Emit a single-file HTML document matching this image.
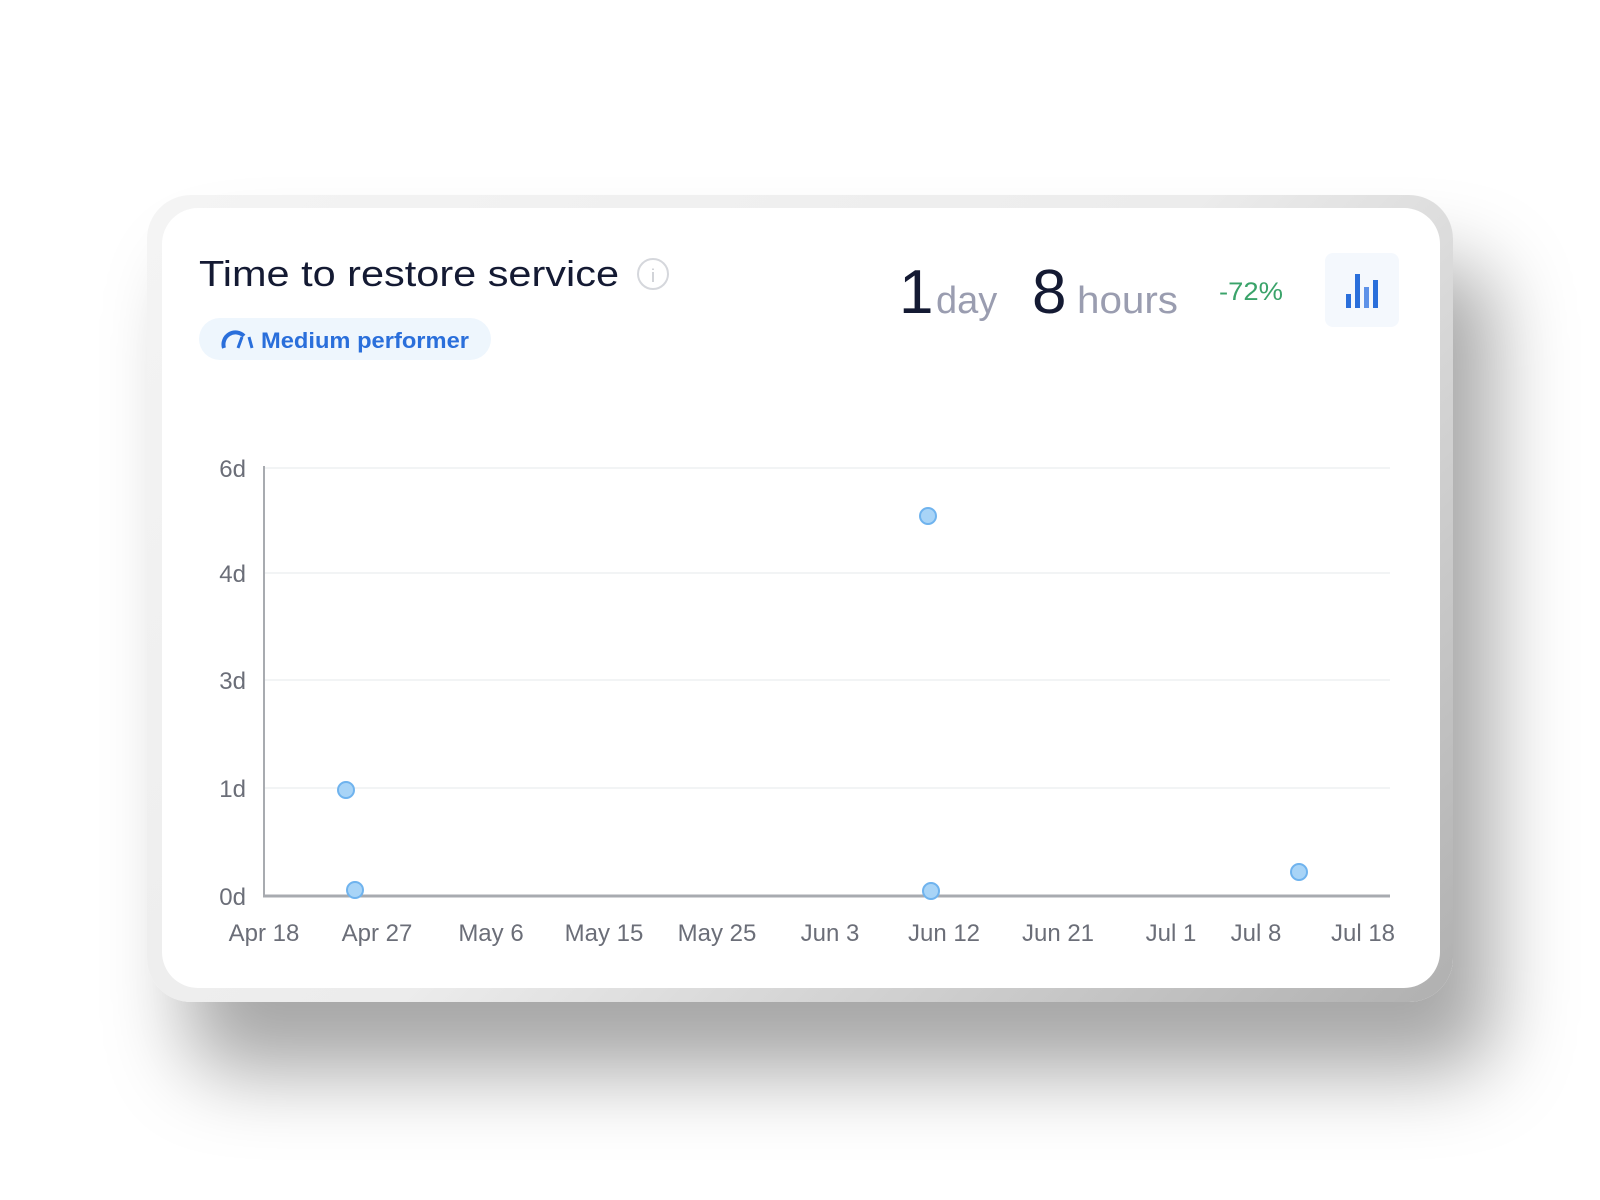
<!DOCTYPE html>
<html><head><meta charset="utf-8"><style>
html,body{margin:0;padding:0;background:#fff;}
body{width:1600px;height:1200px;position:relative;overflow:hidden;font-family:"Liberation Sans",sans-serif;}
.outer{position:absolute;left:147px;top:195px;width:1306px;height:807px;border-radius:44px;
background:linear-gradient(135deg,#f4f4f4 0%,#ececec 50%,#b0b0b0 100%);
box-shadow:40px 70px 80px rgba(0,0,0,0.35);}
.inner{position:absolute;left:162px;top:208px;width:1278px;height:780px;border-radius:36px;background:#fff;}
svg{position:absolute;left:0;top:0;}
</style></head><body>
<div class="outer"></div>
<div class="inner"></div>
<svg width="1600" height="1200" xmlns="http://www.w3.org/2000/svg" font-family="Liberation Sans, sans-serif">
<text x="199" y="286" font-size="36" fill="#141a33" textLength="420" lengthAdjust="spacingAndGlyphs">Time to restore service</text>
<circle cx="653" cy="274" r="15" fill="none" stroke="#d5d7dc" stroke-width="2"/>
<text x="653" y="282" font-size="18" fill="#c8cad0" text-anchor="middle">i</text>
<rect x="199" y="318" width="292" height="42" rx="21" fill="#eef6fd"/>
<path d="M224 348 A12 12 0 0 1 244 336" fill="none" stroke="#2a6fdb" stroke-width="4"/>
<path d="M238 348 L242 337 M249 337 L252 348" stroke="#2a6fdb" stroke-width="3"/>
<text x="261" y="348" font-size="22" font-weight="bold" fill="#2a6fdb" textLength="208" lengthAdjust="spacingAndGlyphs">Medium performer</text>
<text x="899" y="313" font-size="62" fill="#141a33">1</text>
<text x="936" y="313" font-size="38" fill="#9a9db0">day</text>
<text x="1032" y="313" font-size="62" fill="#141a33">8</text>
<text x="1077" y="313" font-size="38" fill="#9a9db0" textLength="101" lengthAdjust="spacingAndGlyphs">hours</text>
<text x="1219" y="300" font-size="25" fill="#3aa36a" textLength="64" lengthAdjust="spacingAndGlyphs">-72%</text>
<rect x="1325" y="253" width="74" height="74" rx="8" fill="#f4f8fd"/>
<rect x="1346" y="294" width="5" height="14" fill="#2a6fdb"/>
<rect x="1355" y="274" width="5" height="34" fill="#2a6fdb"/>
<rect x="1364" y="287" width="5" height="21" fill="#5e92e8"/>
<rect x="1373" y="280" width="5" height="28" fill="#2a6fdb"/>
<g stroke="#eef0f2" stroke-width="1.5">
<line x1="264" y1="468" x2="1390" y2="468"/>
<line x1="264" y1="573" x2="1390" y2="573"/>
<line x1="264" y1="680" x2="1390" y2="680"/>
<line x1="264" y1="788" x2="1390" y2="788"/>
</g>
<line x1="264" y1="466" x2="264" y2="897" stroke="#a8abb0" stroke-width="2"/>
<line x1="263" y1="896" x2="1390" y2="896" stroke="#a8abb0" stroke-width="3"/>
<g font-size="24" fill="#6b6e78" text-anchor="end">
<text x="246" y="477">6d</text><text x="246" y="582">4d</text><text x="246" y="689">3d</text><text x="246" y="797">1d</text><text x="246" y="905">0d</text>
</g>
<g font-size="24" fill="#6b6e78" text-anchor="middle">
<text x="264" y="941">Apr 18</text><text x="377" y="941">Apr 27</text><text x="491" y="941">May 6</text><text x="604" y="941">May 15</text><text x="717" y="941">May 25</text><text x="830" y="941">Jun 3</text><text x="944" y="941">Jun 12</text><text x="1058" y="941">Jun 21</text><text x="1171" y="941">Jul 1</text><text x="1256" y="941">Jul 8</text><text x="1363" y="941">Jul 18</text>
</g>
<g fill="#a8d4f7" stroke="#6fb3ee" stroke-width="2">
<circle cx="346" cy="790" r="8"/>
<circle cx="355" cy="890" r="8"/>
<circle cx="928" cy="516" r="8"/>
<circle cx="931" cy="891" r="8"/>
<circle cx="1299" cy="872" r="8"/>
</g>
</svg>
</body></html>
